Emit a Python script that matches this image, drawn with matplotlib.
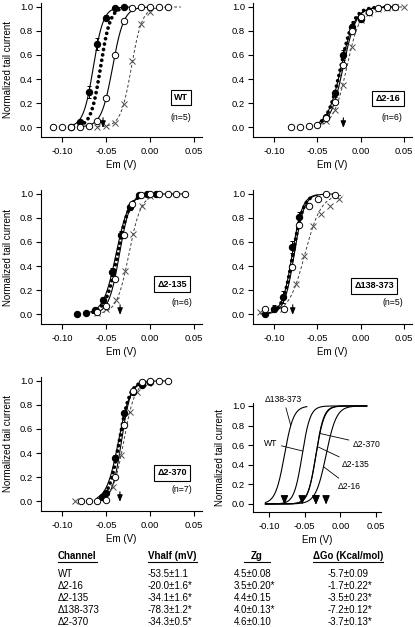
import numpy as np
import matplotlib
matplotlib.use('Agg')
import matplotlib.pyplot as plt
from matplotlib.lines import Line2D

plt.rcParams['font.family'] = ['Liberation Sans', 'DejaVu Sans']
plt.rcParams['axes.unicode_minus'] = False

# ---------------- data (V in volts, normalized tail current) ----------------
# WT
wt_filled_v = [-0.09, -0.08, -0.07, -0.06, -0.05, -0.04, -0.03]
wt_filled_i = [0.00, 0.04, 0.29, 0.69, 0.91, 0.99, 1.00]
wt_filled_e = [0, 0, 0.05, 0.05, 0.02, 0, 0]
wt_open_v = [-0.11, -0.10, -0.09, -0.08, -0.07, -0.06, -0.05, -0.04, -0.03, -0.02, -0.01, 0.00, 0.01, 0.02]
wt_open_i = [0, 0, 0, 0, 0.005, 0.05, 0.24, 0.60, 0.88, 0.99, 1.0, 1.0, 1.0, 1.0]
wt_cross_v = [-0.06, -0.05, -0.04, -0.03, -0.02, -0.01, 0.00]
wt_cross_i = [0.0, 0.01, 0.03, 0.19, 0.55, 0.86, 0.96]
# fits: filled, open, cross, dotted
wt_fit_vh = [-0.0645, -0.0426, -0.0212, -0.0563]
wt_fit_k = [0.0057, 0.0064, 0.0061, 0.0055]
wt_fit_lo = [-0.09, -0.08, -0.06, -0.08]
wt_fit_hi = [-0.02, 0.0, 0.035, -0.03]

# delta 2-16
d16_filled_v = [-0.04, -0.03, -0.02, -0.01, 0.00, 0.01]
d16_filled_i = [0.08, 0.28, 0.60, 0.83, 0.90, 0.96]
d16_filled_e = [0.02, 0.03, 0.04, 0.03, 0, 0]
d16_open_v = [-0.08, -0.07, -0.06, -0.05, -0.04, -0.03, -0.02, -0.01, 0.00, 0.01, 0.02, 0.03, 0.04]
d16_open_i = [0, 0, 0.005, 0.02, 0.075, 0.21, 0.52, 0.80, 0.92, 0.96, 0.99, 1.0, 1.0]
d16_cross_v = [-0.04, -0.03, -0.02, -0.01, 0.00, 0.01, 0.02, 0.03, 0.04, 0.05]
d16_cross_i = [0.05, 0.14, 0.35, 0.67, 0.89, 0.95, 0.98, 0.99, 1.0, 1.0]
d16_fit_vh = [-0.0225, -0.0202, -0.016, -0.023]
d16_fit_k = [0.0079, 0.0074, 0.0077, 0.0075]
d16_fit_lo = [-0.05, -0.05, -0.045, -0.045]
d16_fit_hi = [0.04, 0.04, 0.05, 0.03]

# delta 2-135
d135_filled_v = [-0.083, -0.073, -0.063, -0.053, -0.043, -0.033, -0.023, -0.013, -0.003, 0.007]
d135_filled_i = [0.0, 0.01, 0.03, 0.12, 0.35, 0.66, 0.89, 0.99, 1.0, 1.0]
d135_filled_e = [0, 0, 0, 0.02, 0.03, 0.03, 0.02, 0, 0, 0]
d135_open_v = [-0.06, -0.05, -0.04, -0.03, -0.02, -0.01, 0.00, 0.01, 0.02, 0.03, 0.04]
d135_open_i = [0.02, 0.067, 0.29, 0.66, 0.92, 0.99, 1.0, 1.0, 1.0, 1.0, 1.0]
d135_cross_v = [-0.06, -0.05, -0.039, -0.028, -0.019, -0.009, 0.0]
d135_cross_i = [0.01, 0.04, 0.12, 0.36, 0.67, 0.90, 0.98]
d135_fit_vh = [-0.0387, -0.0348, -0.0241, -0.037]
d135_fit_k = [0.0072, 0.0061, 0.0069, 0.0068]
d135_fit_lo = [-0.07, -0.065, -0.06, -0.065]
d135_fit_hi = [0.0, 0.04, 0.01, -0.01]

# delta 138-373
d138_filled_v = [-0.11, -0.10, -0.089, -0.079, -0.0705]
d138_filled_i = [0.0, 0.045, 0.14, 0.56, 0.81]
d138_filled_e = [0, 0.03, 0.05, 0.05, 0.04]
d138_open_v = [-0.11, -0.088, -0.079, -0.0705, -0.06, -0.0495, -0.0397, -0.0298]
d138_open_i = [0.045, 0.04, 0.39, 0.74, 0.90, 0.96, 1.0, 0.99]
d138_cross_v = [-0.116, -0.09, -0.0744, -0.0649, -0.0553, -0.0458, -0.0351, -0.0248]
d138_cross_i = [0.02, 0.04, 0.25, 0.48, 0.73, 0.83, 0.90, 0.96]
d138_fit_vh = [-0.0788, -0.0765, -0.0642, -0.078]
d138_fit_k = [0.0058, 0.0057, 0.0093, 0.006]
d138_fit_lo = [-0.11, -0.115, -0.115, -0.10]
d138_fit_hi = [-0.05, -0.03, -0.02, -0.055]

# delta 2-370
d370_filled_v = [-0.055, -0.05, -0.0398, -0.0292, -0.019, -0.009, 0.0]
d370_filled_i = [0.03, 0.064, 0.36, 0.73, 0.91, 0.97, 0.99]
d370_filled_e = [0, 0, 0.02, 0.02, 0, 0, 0]
d370_open_v = [-0.078, -0.069, -0.06, -0.05, -0.0398, -0.0292, -0.0197, -0.0095, 0.0, 0.01, 0.02]
d370_open_i = [0, 0, 0, 0.01, 0.20, 0.63, 0.92, 0.99, 1.0, 1.0, 1.0]
d370_cross_v = [-0.085, -0.0417, -0.033, -0.0227, -0.015, -0.0019]
d370_cross_i = [0.0, 0.12, 0.38, 0.74, 0.91, 0.98]
d370_fit_vh = [-0.0359, -0.0325, -0.0299, -0.035]
d370_fit_k = [0.0068, 0.0053, 0.0064, 0.006]
d370_fit_lo = [-0.06, -0.055, -0.05, -0.055]
d370_fit_hi = [0.0, 0.02, 0.0, -0.005]

# summary table
channels = ['WT', 'Δ2-16', 'Δ2-135', 'Δ138-373', 'Δ2-370']
n_cells = [5, 6, 6, 5, 7]
vhalf_mv = [-53.5, -20.0, -34.1, -78.3, -34.3]
vhalf_err = [1.1, 1.6, 1.6, 1.2, 0.5]
vhalf_sig = [False, True, True, True, True]
zg = [4.5, 3.5, 4.4, 4.0, 4.6]
zg_err = [0.08, 0.20, 0.15, 0.13, 0.10]
zg_sig = [False, True, False, True, False]
dgo = [-5.7, -1.7, -3.5, -7.2, -3.7]
dgo_err = [0.09, 0.22, 0.23, 0.12, 0.13]
dgo_sig = [False, True, True, True, True]
rt_f = 0.0254  # RT/F in volts
sum_hi = [0.037, 0.037, 0.037, -0.047, 0.037]


def boltz(v, vh, k):
    return 1.0 / (1.0 + np.exp((vh - v) / k))


W, H = 415, 627
fig = plt.figure(figsize=(W / 100, H / 100), dpi=100)


def px_axes(left, top, right, bottom):
    return fig.add_axes([left / W, 1 - bottom / H, (right - left) / W, (bottom - top) / H])


def style(ax, xlim, ylim, ylabel=True, lab_x=-0.174):
    ax.set_xlim(*xlim)
    ax.set_ylim(*ylim)
    for s in ['top', 'right']:
        ax.spines[s].set_visible(False)
    for s in ['left', 'bottom']:
        ax.spines[s].set_linewidth(0.8)
    ax.set_xticks([-0.10, -0.05, 0.00, 0.05])
    ax.set_xticklabels(['-0.10', '-0.05', '0.00', '0.05'])
    ax.set_yticks([0, 0.2, 0.4, 0.6, 0.8, 1.0])
    ax.set_yticklabels(['0.0', '0.2', '0.4', '0.6', '0.8', '1.0'])
    ax.tick_params(direction='out', length=3.6, width=0.8, labelsize=6.8)
    ax.tick_params(axis='x', pad=3.5)
    ax.tick_params(axis='y', pad=2)
    ax.set_xlabel('Em (V)', fontsize=7, labelpad=3)
    if ylabel:
        ax.set_ylabel('Normalized tail current', fontsize=7)
        ax.yaxis.set_label_coords(lab_x, 0.5)


def panel(ax, fv, fi, fe, ov, oi, cv, ci, vh, kk, lo, hi, name, n, arrow_v, box_xy, n_xy):
    styles = [dict(color='k', lw=0.8, ls='-'),
              dict(color='k', lw=0.8, ls='-'),
              dict(color='0.25', lw=0.7, ls=(0, (3, 2.2))),
              dict(color='k', lw=2.7, ls=(0, (0.01, 1.45)), dash_capstyle='round')]
    for j in range(4):
        v = np.linspace(lo[j], hi[j], 200)
        ax.plot(v, boltz(v, vh[j], kk[j]), zorder=2, **styles[j])
    ax.plot(cv, ci, 'x', color='0.3', ms=4.2, mew=0.7, zorder=3)
    ax.errorbar(fv, fi, yerr=fe, fmt='o', color='k', ms=4.3, elinewidth=0.7,
                capsize=1.5, capthick=0.7, zorder=4)
    ax.plot(ov, oi, 'o', mfc='white', mec='k', mew=0.7, ms=4.6, zorder=5)
    ax.annotate('', xy=(arrow_v, -0.03), xytext=(arrow_v, 0.1),
                arrowprops=dict(arrowstyle='-|>,head_length=0.5,head_width=0.2',
                                lw=0.8, color='k', mutation_scale=8), zorder=6)
    ax.text(box_xy[0], box_xy[1], name, transform=ax.transAxes, ha='center', va='center',
            fontsize=6.5, fontweight='bold',
            bbox=dict(boxstyle='square,pad=0.35', fc='white', ec='k', lw=0.8))
    ax.text(n_xy[0], n_xy[1], '(n=%d)' % n, transform=ax.transAxes, ha='center',
            va='center', fontsize=6.3)


xl1 = (-0.124, 0.059)
yl = (-0.083, 1.033)

ax1 = px_axes(41, 3, 202, 137)
style(ax1, xl1, yl)
panel(ax1, wt_filled_v, wt_filled_i, wt_filled_e, wt_open_v, wt_open_i, wt_cross_v, wt_cross_i,
      wt_fit_vh, wt_fit_k, wt_fit_lo, wt_fit_hi, channels[0], n_cells[0], vhalf_mv[0] / 1000,
      (0.87, 0.295), (0.87, 0.149))

ax2 = px_axes(253, 3, 412, 137)
style(ax2, xl1, yl, ylabel=False)
panel(ax2, d16_filled_v, d16_filled_i, d16_filled_e, d16_open_v, d16_open_i, d16_cross_v, d16_cross_i,
      d16_fit_vh, d16_fit_k, d16_fit_lo, d16_fit_hi, channels[1], n_cells[1], vhalf_mv[1] / 1000,
      (0.849, 0.287), (0.874, 0.149))

ax3 = px_axes(41, 190, 202, 324)
style(ax3, xl1, yl)
panel(ax3, d135_filled_v, d135_filled_i, d135_filled_e, d135_open_v, d135_open_i, d135_cross_v,
      d135_cross_i, d135_fit_vh, d135_fit_k, d135_fit_lo, d135_fit_hi, channels[2], n_cells[2],
      vhalf_mv[2] / 1000, (0.814, 0.298), (0.876, 0.164))

ax4 = px_axes(253, 190, 412, 324)
style(ax4, xl1, yl, ylabel=False)
panel(ax4, d138_filled_v, d138_filled_i, d138_filled_e, d138_open_v, d138_open_i, d138_cross_v,
      d138_cross_i, d138_fit_vh, d138_fit_k, d138_fit_lo, d138_fit_hi, channels[3], n_cells[3],
      vhalf_mv[3] / 1000, (0.761, 0.284), (0.88, 0.164))

ax5 = px_axes(41, 377, 202, 511)
style(ax5, xl1, yl)
panel(ax5, d370_filled_v, d370_filled_i, d370_filled_e, d370_open_v, d370_open_i, d370_cross_v,
      d370_cross_i, d370_fit_vh, d370_fit_k, d370_fit_lo, d370_fit_hi, channels[4], n_cells[4],
      vhalf_mv[4] / 1000, (0.814, 0.284), (0.876, 0.157))

# summary of Boltzmann curves
ax6 = px_axes(253, 403, 381, 512)
style(ax6, (-0.1224, 0.057), (-0.082, 1.03), lab_x=-0.215)
for j in range(len(channels)):
    vh = vhalf_mv[j] / 1000
    k = rt_f / zg[j]
    v = np.linspace(-0.105, sum_hi[j], 300)
    ax6.plot(v, boltz(v, vh, k), color='k', lw=0.8)
    ax6.annotate('', xy=(vh, -0.035), xytext=(vh, 0.08),
                 arrowprops=dict(arrowstyle='-|>,head_length=0.6,head_width=0.25',
                                 lw=0.8, color='k', mutation_scale=9))

lab_pos = [(-0.107, 0.62), (-0.0032, 0.18), (0.0024, 0.40), (-0.1056, 1.07), (0.0178, 0.61)]
lab_frac = [0.54, 0.38, 0.585, 0.8, 0.72]
for j in range(len(channels)):
    vh = vhalf_mv[j] / 1000
    k = rt_f / zg[j]
    p = lab_frac[j]
    xc = vh + k * np.log(p / (1 - p))
    ax6.annotate(channels[j], xy=(xc, p), xytext=lab_pos[j], fontsize=6.2, ha='left',
                 va='center', annotation_clip=False,
                 arrowprops=dict(arrowstyle='-', lw=0.6, color='k', shrinkA=1, shrinkB=0))

# table
col_x = [58, 148, 234, 328]
hdr_y = 556
row_y = [574, 586, 598, 610, 622]
fs = 7
headers = [('Channel', 58, 0), ('Vhalf (mV)', 148, 0), ('Zg', 257, 7), ('ΔGo (Kcal/mol)', 313, 0)]
hdr_texts = []
for txt, x, extra in headers:
    ha = 'center' if txt == 'Zg' else 'left'
    t = fig.text(x / W, 1 - hdr_y / H, txt, fontsize=fs, fontweight='bold', ha=ha, va='center')
    hdr_texts.append((t, extra))

for j in range(len(channels)):
    y = 1 - row_y[j] / H
    fig.text(col_x[0] / W, y, channels[j], fontsize=fs, va='center')
    fig.text(col_x[1] / W, y, '%.1f±%.1f%s' % (vhalf_mv[j], vhalf_err[j], '*' if vhalf_sig[j] else ''),
             fontsize=fs, va='center')
    fig.text(col_x[2] / W, y, '%.1f±%.2f%s' % (zg[j], zg_err[j], '*' if zg_sig[j] else ''),
             fontsize=fs, va='center')
    fig.text(col_x[3] / W, y, '%.1f±%.2f%s' % (dgo[j], dgo_err[j], '*' if dgo_sig[j] else ''),
             fontsize=fs, va='center')

fig.canvas.draw()
rend = fig.canvas.get_renderer()
for t, extra in hdr_texts:
    bb = t.get_window_extent(rend)
    yline = (bb.y0 - 1) / H
    fig.add_artist(Line2D([(bb.x0 - extra) / W, (bb.x1 + extra) / W], [yline, yline],
                          color='k', lw=0.8))

fig.savefig('out.png', dpi=100)
